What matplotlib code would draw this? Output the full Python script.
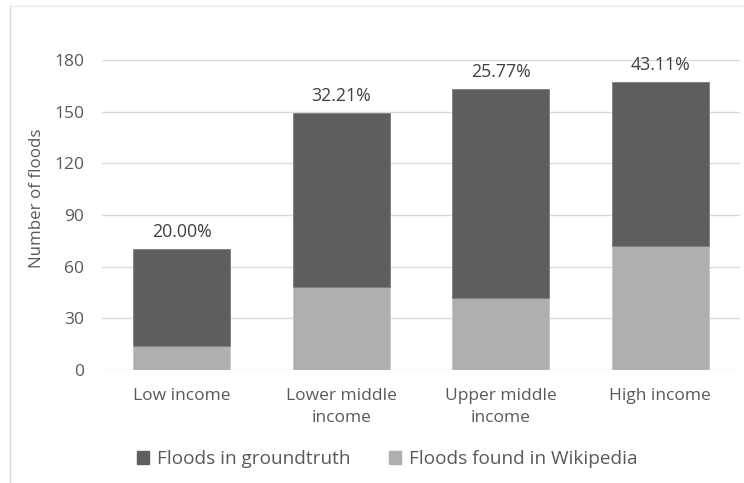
import matplotlib
matplotlib.use("Agg")
import matplotlib.pyplot as plt
from matplotlib.lines import Line2D
from matplotlib.patches import Patch

categories = ["Low income", "Lower middle\nincome", "Upper middle\nincome", "High income"]
groundtruth = [70, 149, 163, 167]
wikipedia = [14, 48, 42, 72]
pct_labels = ["20.00%", "32.21%", "25.77%", "43.11%"]
yticks = [0, 30, 60, 90, 120, 150, 180]

dark = "#5e5e5e"
light = "#afafaf"
text_col = "#595959"

plt.rcParams["font.family"] = ["Open Sans", "DejaVu Sans"]

fig = plt.figure(figsize=(7.44, 4.83), dpi=100)
ax = fig.add_axes([102 / 744, 113 / 483, 638 / 744, 310 / 483])

x = list(range(len(categories)))
rest = [g - w for g, w in zip(groundtruth, wikipedia)]
ax.bar(x, wikipedia, width=0.61, color=light, edgecolor="#c4c4c4", linewidth=0.6, zorder=3)
ax.bar(x, rest, bottom=wikipedia, width=0.61, color=dark, edgecolor="#7d7d7d", linewidth=0.6, zorder=3)

for xi, g, lab in zip(x, groundtruth, pct_labels):
    ax.text(xi, g + 5, lab, ha="center", va="bottom", fontsize=12.8, color="#404040")

ax.set_xlim(-0.5, 3.5)
ax.set_ylim(0, 180)
ax.set_yticks(yticks)
ax.set_xticks(x)
ax.set_xticklabels(categories, fontsize=12.5, color=text_col, linespacing=1.5)
ax.tick_params(axis="y", labelsize=12.5, labelcolor=text_col, length=0, pad=13)
ax.tick_params(axis="x", length=0, pad=13)
ax.yaxis.grid(True, color="#d9d9d9", linewidth=1.0, zorder=0)
ax.set_axisbelow(True)
for s in ax.spines.values():
    s.set_visible(False)
ax.set_ylabel("Number of floods", fontsize=12.2, color=text_col)
ax.yaxis.set_label_coords(-0.089, 0.555)

handles = [Patch(facecolor=dark, edgecolor=dark), Patch(facecolor=light, edgecolor=light)]
fig.legend(handles, ["Floods in groundtruth", "Floods found in Wikipedia"],
           loc="center", bbox_to_anchor=(387 / 744, 1 - 459 / 483), ncol=2, frameon=False,
           fontsize=13.7, labelcolor=text_col, handlelength=0.65, handleheight=0.65,
           handletextpad=0.4, columnspacing=2.0)

# outer chart frame (left and top edges)
fig.add_artist(Line2D([10 / 744, 10 / 744], [0, 1 - 6 / 483], color="#d9d9d9", linewidth=1.0))
fig.add_artist(Line2D([10 / 744, 1], [1 - 6 / 483, 1 - 6 / 483], color="#e6e6e6", linewidth=1.0))

fig.savefig("out.png", dpi=100, facecolor="white")
